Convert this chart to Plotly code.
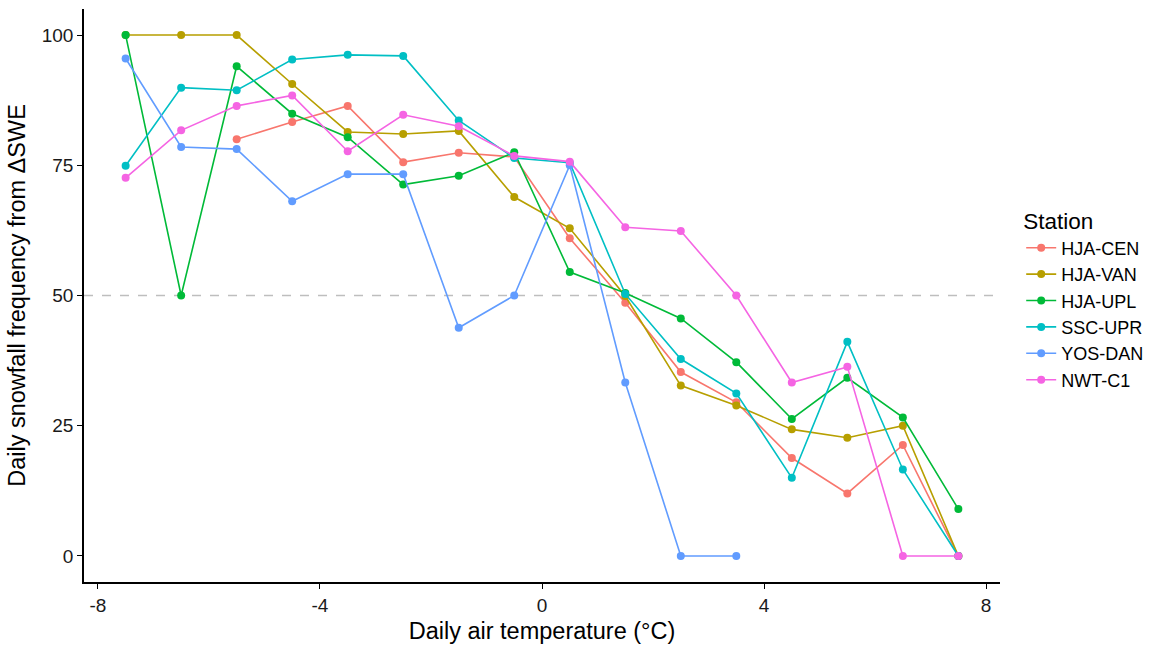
import plotly.graph_objects as go

temps = [-7.5, -6.5, -5.5, -4.5, -3.5, -2.5, -1.5, -0.5, 0.5, 1.5, 2.5, 3.5, 4.5, 5.5, 6.5, 7.5]

stations = ["HJA-CEN", "HJA-VAN", "HJA-UPL", "SSC-UPR", "YOS-DAN", "NWT-C1"]
colors = ["#F8766D", "#B79F00", "#00BA38", "#00BFC4", "#619CFF", "#F564E3"]

hja_cen = [None, None, 80.0, 83.3, 86.4, 75.6, 77.4, 76.6, 61.0, 48.6, 35.3, 29.5, 18.8, 12.0, 21.3, 0.0]
hja_van = [100.0, 100.0, 100.0, 90.6, 81.4, 81.0, 81.6, 68.9, 62.9, 49.9, 32.7, 28.9, 24.3, 22.7, 25.0, 0.0]
hja_upl = [100.0, 50.0, 94.0, 84.9, 80.4, 71.3, 73.0, 77.5, 54.5, 50.5, 45.6, 37.2, 26.3, 34.2, 26.6, 9.0]
ssc_upr = [74.9, 89.9, 89.4, 95.3, 96.2, 96.0, 83.6, 76.4, 75.5, 50.3, 37.8, 31.2, 15.0, 41.1, 16.6, 0.0]
yos_dan = [95.5, 78.5, 78.1, 68.1, 73.3, 73.3, 43.8, 50.0, 75.0, 33.3, 0.0, 0.0, None, None, None, None]
nwt_c1 = [72.6, 81.7, 86.4, 88.4, 77.7, 84.7, 82.5, 76.8, 75.7, 63.1, 62.4, 50.0, 33.3, 36.3, 0.0, 0.0]

series = [hja_cen, hja_van, hja_upl, ssc_upr, yos_dan, nwt_c1]

x_ticks = [-8, -4, 0, 4, 8]
y_ticks = [0, 25, 50, 75, 100]

FONT = "Liberation Sans, Arial, sans-serif"

fig = go.Figure()

for name, col, vals in zip(stations, colors, series):
    xs = [t for t, v in zip(temps, vals) if v is not None]
    ys = [v for v in vals if v is not None]
    fig.add_trace(go.Scatter(
        x=xs, y=ys, mode="lines+markers", name=name,
        line=dict(color=col, width=1.6),
        marker=dict(color=col, size=8),
    ))

fig.add_hline(y=50, line=dict(color="#BEBEBE", width=1.5, dash="dash"), layer="below")

fig.update_layout(
    width=1150, height=648,
    margin=dict(l=84, r=150, t=9, b=66),
    paper_bgcolor="white", plot_bgcolor="white",
    font=dict(family=FONT, color="black", size=19),
    showlegend=True,
    legend=dict(
        title=dict(text="Station", font=dict(size=22.5, color="black")),
        font=dict(size=18, color="black"),
        xref="container", yref="container",
        x=0.888, y=0.691, xanchor="left", yanchor="top",
        tracegroupgap=0, itemwidth=30,
        bgcolor="rgba(0,0,0,0)",
    ),
    xaxis=dict(
        range=[-8.25, 8.25], tickvals=x_ticks, ticktext=[str(t) for t in x_ticks],
        showgrid=False, zeroline=False,
        showline=True, linecolor="black", linewidth=1.5,
        ticks="outside", ticklen=5, tickwidth=1.2, tickcolor="black",
        tickfont=dict(size=19, color="#1a1a1a"),
        title=dict(text="Daily air temperature (°C)", font=dict(size=23.5), standoff=8),
    ),
    yaxis=dict(
        range=[-5, 105], tickvals=y_ticks, ticktext=[str(t) for t in y_ticks],
        showgrid=False, zeroline=False,
        showline=True, linecolor="black", linewidth=1.5,
        ticks="outside", ticklen=5, tickwidth=1.2, tickcolor="black",
        tickfont=dict(size=19, color="#1a1a1a"),
        title=dict(text="Daily snowfall frequency from ΔSWE", font=dict(size=23.5), standoff=10),
    ),
)

fig.write_html("out.html")
